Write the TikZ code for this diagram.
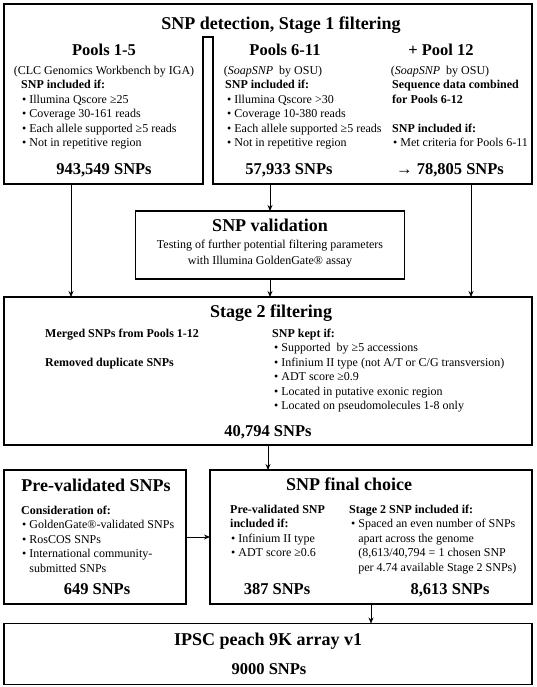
\documentclass[tikz,border=0pt]{standalone}
\usepackage{fontspec}
\setmainfont{Liberation Serif}
\usetikzlibrary{arrows.meta, calc, positioning}
\newcommand{\fhead}{\fontsize{18}{20}\selectfont\bfseries}
\newcommand{\fsub}{\fontsize{16.5}{18}\selectfont\bfseries}
\newcommand{\fbody}{\fontsize{12}{14}\selectfont}

\begin{document}
\begin{tikzpicture}[x=1pt, y=-1pt, >={Stealth[length=6pt, width=5pt]},
  panel/.style={draw, line width=1.6pt, inner sep=0pt, outer sep=0pt},
  txt/.style={inner sep=0pt, font=\fbody, text height=8.5pt, text depth=2.5pt, anchor=west},
  hd/.style={inner sep=0pt, font=\fhead, text height=12.5pt, text depth=3.5pt},
  sub/.style={inner sep=0pt, font=\fsub, text height=11.5pt, text depth=3.2pt},
  link/.style={->, line width=0.9pt}]

  \useasboundingbox (0,0) rectangle (537,687);

  % Stage 1 frame (two boxes joined at the top)
  \draw[line width=1.6pt] (4,4) -- (532,4) -- (532,184) -- (213,184) -- (213,37)
    -- (203,37) -- (203,184) -- (4,184) -- cycle;
  \node[hd] (t1) at (281,25) {SNP detection, Stage 1 filtering};

  % Pools 1-5
  \node[sub] (p15) at (104,51) {Pools 1-5};
  \node[txt, anchor=center] (p15s) at (104,72) {(CLC Genomics Workbench by IGA)};
  \node[txt] (p15i) at (21,86) {\bfseries SNP included if:};
  \foreach \t [count=\i] in {Illumina Qscore ≥25, Coverage 30-161 reads,
      Each allele supported ≥5 reads, Not in repetitive region}
    \node[txt] (p15b\i) at (22,{86+14.5*\i}) {\textbullet\ \t};
  \node[sub] (n15) at (104,170) {943,549 SNPs};

  % Pools 6-11
  \node[sub] (p611) at (285,51) {Pools 6-11};
  \node[txt, anchor=center] (p611s) at (273,72) {(\textit{SoapSNP}\ \ by OSU)};
  \node[txt] (p611i) at (225,86) {\bfseries SNP included if:};
  \foreach \t [count=\i] in {Illumina Qscore >30, Coverage 10-380 reads,
      Each allele supported ≥5 reads, Not in repetitive region}
    \node[txt] (p611b\i) at (227,{86+14.5*\i}) {\textbullet\ \t};
  \node[sub] (n611) at (289,170) {57,933 SNPs};

  % + Pool 12
  \node[sub] (p12) at (441,51) {+ Pool 12};
  \node[txt, anchor=center] (p12s) at (440,72) {(\textit{SoapSNP}\ \ by OSU)};
  \node[txt] (p12c) at (392,86) {\bfseries Sequence data combined};
  \node[txt] (p12d) at (392,100.5) {\bfseries for Pools 6-12};
  \node[txt] (p12i) at (392,129.5) {\bfseries SNP included if:};
  \node[txt] (p12b) at (393,144) {\textbullet\ Met criteria for Pools 6-11};
  \node[sub] (n12) at (450,170) {→ 78,805 SNPs};

  % SNP validation
  \node[panel, minimum width=269pt, minimum height=68pt] (val) at (270,245) {};
  \node[hd] (valt) at (270,227) {SNP validation};
  \node[txt, anchor=center] (val1) at (270,245.5) {Testing of further potential filtering parameters};
  \node[txt, anchor=center] (val2) at (270,261) {with Illumina GoldenGate® assay};

  % Stage 2 filtering
  \node[panel, minimum width=528pt, minimum height=148pt] (st2) at (268,371) {};
  \node[hd] (st2t) at (271,313) {Stage 2 filtering};
  \node[txt] (st2m) at (45,334) {\bfseries Merged SNPs from Pools 1-12};
  \node[txt] (st2r) at (45,363) {\bfseries Removed duplicate SNPs};
  \node[txt] (st2k) at (272,334) {\bfseries SNP kept if:};
  \foreach \t [count=\i] in {Supported\ \ by ≥5 accessions,
      Infinium II type (not A/T or C/G transversion), ADT score ≥0.9,
      Located in putative exonic region, Located on pseudomolecules 1-8 only}
    \node[txt] (st2b\i) at (274,{334+14.5*\i}) {\textbullet\ \t};
  \node[sub] (nst2) at (268,432) {40,794 SNPs};

  % Pre-validated SNPs
  \node[panel, minimum width=182pt, minimum height=134pt] (pre) at (95,537) {};
  \node[hd] (pret) at (96,487) {Pre-validated SNPs};
  \node[txt] (prec) at (21,511) {\bfseries Consideration of:};
  \foreach \t [count=\i] in {GoldenGate®-validated SNPs, RosCOS SNPs,
      International community-}
    \node[txt] (preb\i) at (22,{511+14.5*\i}) {\textbullet\ \t};
  \node[txt] (preb4) at (29.2,569) {submitted SNPs};
  \node[sub] (npre) at (97,590) {649 SNPs};

  % SNP final choice
  \node[panel, minimum width=322pt, minimum height=134pt] (fin) at (371,537) {};
  \node[hd] (fint) at (349,486) {SNP final choice};
  \node[txt] (fina) at (230,510) {\bfseries Pre-validated SNP};
  \node[txt] (finb) at (230,524.5) {\bfseries included if:};
  \node[txt] (fina1) at (231,539) {\textbullet\ Infinium II type};
  \node[txt] (fina2) at (231,553.5) {\textbullet\ ADT score ≥0.6};
  \node[sub] (nfina) at (277,590) {387 SNPs};
  \node[txt] (finc) at (349,510) {\bfseries Stage 2 SNP included if:};
  \node[txt] (finc1) at (351,524.5) {\textbullet\ Spaced an even number of SNPs};
  \node[txt] (finc2) at (358.2,539) {apart across the genome};
  \node[txt] (finc3) at (358.2,553.5) {(8,613/40,794 = 1 chosen SNP};
  \node[txt] (finc4) at (358.2,568) {per 4.74 available Stage 2 SNPs)};
  \node[sub] (nfinc) at (450,590) {8,613 SNPs};

  % IPSC array
  \node[panel, minimum width=528pt, minimum height=61pt] (ipsc) at (268,654) {};
  \node[hd] (ipsct) at (268,641) {IPSC peach 9K array v1};
  \node[sub] (nipsc) at (269,670) {9000 SNPs};

  % Arrows
  \coordinate (a1) at (71,184);
  \coordinate (a2) at (270,184);
  \coordinate (a3) at (471,184);
  \draw[link] (a1) -- (a1 |- st2.north);
  \draw[link] (a2) -- (val.north);
  \draw[link] (val.south) -- (val.south |- st2.north);
  \draw[link] (a3) -- (a3 |- st2.north);
  \draw[link] (st2.south) -- (st2.south |- fin.north);
  \draw[link] (pre.east) -- (fin.west);
  \draw[link] (fin.south) -- (fin.south |- ipsc.north);

\end{tikzpicture}
\end{document}
